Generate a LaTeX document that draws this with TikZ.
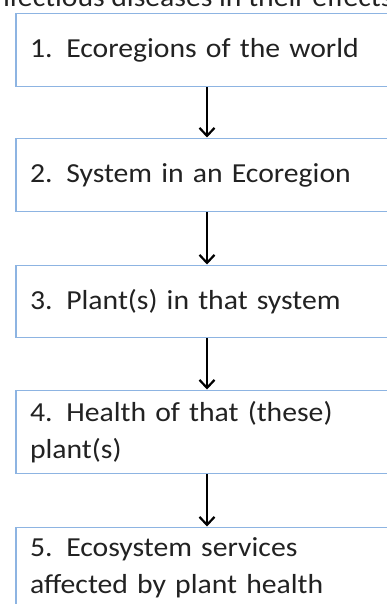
\documentclass[tikz,border=0pt]{standalone}
\usepackage{fontspec}
\setmainfont{Carlito}[FakeStretch=1.08]
\usetikzlibrary{arrows.meta}
\definecolor{boxblue}{HTML}{8DB4E2}
\definecolor{txt}{HTML}{222222}
\tikzset{
  stepbox/.style={draw=boxblue, line width=1.3pt, fill=white, minimum width=382pt,
    text width=354pt, align=left, inner xsep=14pt, inner ysep=0pt, anchor=north,
    font=\fontsize{27.5pt}{37pt}\selectfont, text=txt},
  flow/.style={line width=2.2pt, black, -{Straight Barb[length=8pt,width=15pt,line width=2.2pt]}, shorten >=0.5pt}
}
\begin{document}
\begin{tikzpicture}[x=1pt,y=-1pt]
\useasboundingbox (0,0) rectangle (387,604);
\clip (0,0) rectangle (387,604);
\node[anchor=base west, font=\fontsize{27.5pt}{32pt}\selectfont, text=txt, inner sep=0pt] (top) at (-6,7) {nfectious diseases in their effects};
\node[stepbox, minimum height=73pt] (b1) at (207,13) {1. Ecoregions of the world};
\node[stepbox, minimum height=73pt] (b2) at (207,138) {2. System in an Ecoregion};
\node[stepbox, minimum height=72pt] (b3) at (207,265) {3. Plant(s) in that system};
\node[stepbox, minimum height=83pt] (b4) at (207,390) {4. Health of that (these)\\plant(s)};
\node[stepbox, minimum height=80pt] (b5) at (207,527) {5. Ecosystem services\\affected by plant health};
\draw[flow] (b1.south) -- (b2.north);
\draw[flow] (b2.south) -- (b3.north);
\draw[flow] (b3.south) -- (b4.north);
\draw[flow] (b4.south) -- (b5.north);
\end{tikzpicture}
\end{document}
